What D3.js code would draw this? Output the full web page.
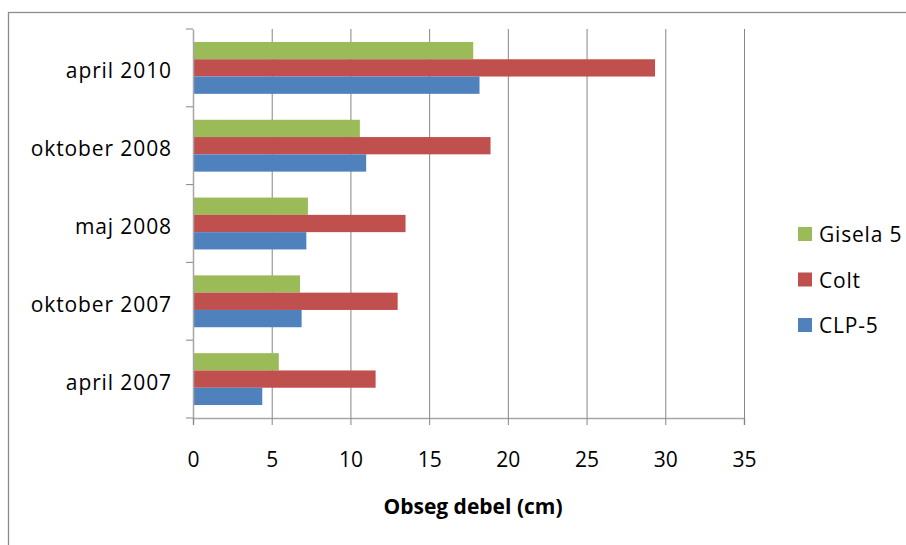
<!DOCTYPE html>
<html>
<head>
<meta charset="UTF-8">
<script src="https://d3js.org/d3.v7.min.js"></script>
<style>
  body { margin: 0; background: #fff; }
  text { font-family: "Open Sans", sans-serif; fill: #000; }
</style>
</head>
<body>
<div id="chart"></div>
<script>
// data
var categories = ["april 2007", "oktober 2007", "maj 2008", "oktober 2008", "april 2010"];
var seriesNames = ["Gisela 5", "Colt", "CLP-5"];
var gisela = [5.45, 6.8, 7.3, 10.6, 17.8];
var colt = [11.6, 13.0, 13.5, 18.9, 29.35];
var clp = [4.4, 6.9, 7.2, 11.0, 18.2];
var xTicks = [0, 5, 10, 15, 20, 25, 30, 35];
var colors = ["#9BBB59", "#C0504D", "#4F81BD"];

var width = 906, height = 545;
var mLeft = 193, mRight = 744, mTop = 29, mBottom = 418;

var svg = d3.select("#chart").append("svg")
    .attr("width", width)
    .attr("height", height);

// outer frame
svg.append("rect")
    .attr("x", 8.5).attr("y", 12.5)
    .attr("width", 920).attr("height", 560)
    .attr("fill", "none")
    .attr("stroke", "#8c8c8c")
    .attr("stroke-width", 1.3);

var x = d3.scaleLinear().domain([0, 35]).range([mLeft, mRight]);

// top category at top
var y = d3.scaleBand()
    .domain(categories.slice().reverse())
    .range([mTop, mBottom])
    .paddingInner(0).paddingOuter(0);

// bar group inside band (gap width 150%)
var inner = d3.scaleBand()
    .domain(seriesNames)
    .range([0, y.bandwidth()])
    .paddingInner(0)
    .paddingOuter(0.75);

// gridlines
svg.append("g")
    .selectAll("line")
    .data(xTicks.slice(1))
    .enter().append("line")
    .attr("x1", function(d){ return x(d) + 0.5; })
    .attr("x2", function(d){ return x(d) + 0.5; })
    .attr("y1", mTop)
    .attr("y2", mBottom)
    .attr("stroke", "#868686")
    .attr("stroke-width", 1);

// bars
var rows = categories.map(function(c, i){
    return { cat: c, vals: [gisela[i], colt[i], clp[i]] };
});

var grp = svg.selectAll("g.row")
    .data(rows)
    .enter().append("g")
    .attr("class", "row")
    .attr("transform", function(d){ return "translate(0," + y(d.cat) + ")"; });

grp.selectAll("rect")
    .data(function(d){ return d.vals.map(function(v, j){ return { name: seriesNames[j], v: v, c: colors[j] }; }); })
    .enter().append("rect")
    .attr("x", x(0))
    .attr("y", function(d){ return inner(d.name); })
    .attr("width", function(d){ return x(d.v) - x(0); })
    .attr("height", inner.bandwidth())
    .attr("fill", function(d){ return d.c; });

// x axis
var xAxis = d3.axisBottom(x)
    .tickValues(xTicks)
    .tickSize(7)
    .tickPadding(27)
    .tickFormat(d3.format("d"));

var gx = svg.append("g")
    .attr("transform", "translate(0," + mBottom + ")")
    .call(xAxis);
gx.select(".domain").attr("stroke", "#a6a6a6").attr("stroke-width", 1.5);
gx.selectAll(".tick line").attr("stroke", "#868686");
gx.selectAll(".tick text").attr("font-size", 21).style("font-family", "Open Sans");

// y axis
var yAxis = d3.axisLeft(y).tickSize(0).tickPadding(21);
var gy = svg.append("g")
    .attr("transform", "translate(" + mLeft + ",0)")
    .call(yAxis);
gy.select(".domain").attr("stroke", "#a6a6a6").attr("stroke-width", 1.5);
gy.selectAll(".tick text").attr("font-size", 21).style("font-family", "Open Sans")
    .attr("dy", "0.5em")
    .style("letter-spacing", "0.9px");

// y ticks at band boundaries
svg.append("g")
    .selectAll("line")
    .data(categories.concat(["end"]))
    .enter().append("line")
    .attr("x1", mLeft - 7).attr("x2", mLeft)
    .attr("y1", function(d, i){ return mTop + i * y.step(); })
    .attr("y2", function(d, i){ return mTop + i * y.step(); })
    .attr("stroke", "#868686");

// axis title
svg.append("text")
    .attr("x", 473)
    .attr("y", 514)
    .attr("text-anchor", "middle")
    .attr("font-size", 21)
    .attr("font-weight", "bold")
    .text("Obseg debel (cm)");

// legend
var leg = svg.append("g")
    .selectAll("g")
    .data(seriesNames)
    .enter().append("g")
    .attr("transform", function(d, i){ return "translate(798," + (227 + i * 45.5) + ")"; });

leg.append("rect")
    .attr("width", 14).attr("height", 14)
    .attr("fill", function(d, i){ return colors[i]; });

leg.append("text")
    .attr("x", 21)
    .attr("y", 15)
    .attr("font-size", 21)
    .style("letter-spacing", "0.8px")
    .text(function(d){ return d; });
</script>
</body>
</html>
